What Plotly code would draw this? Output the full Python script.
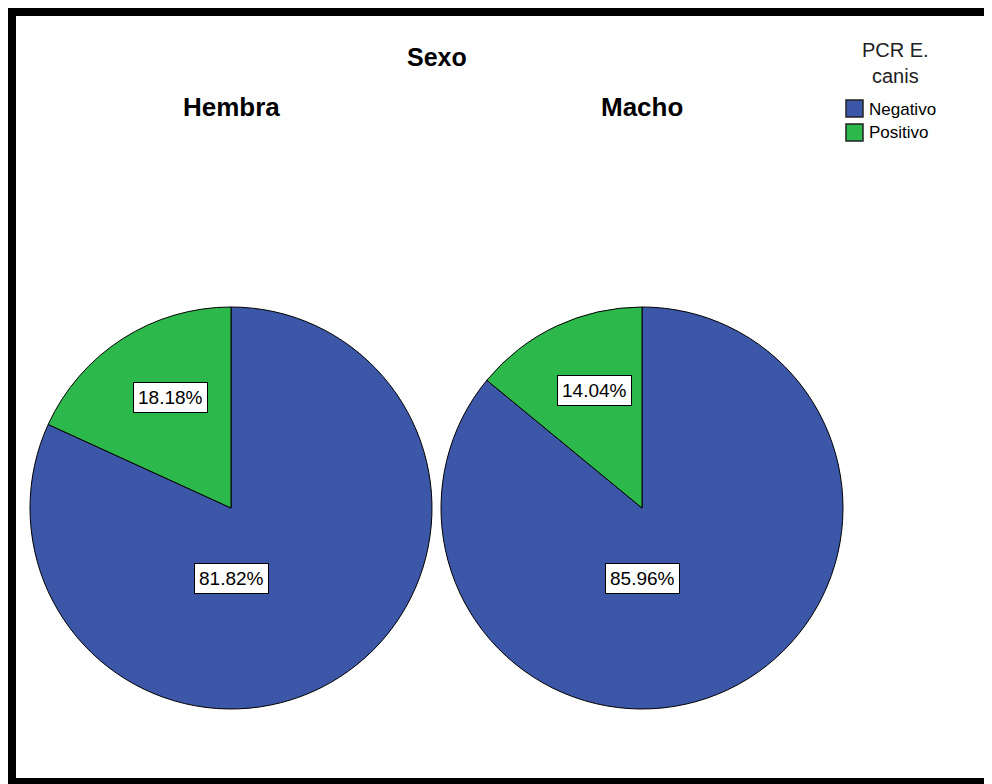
import math
import plotly.graph_objects as go

# ---- data ----
groups = ["Hembra", "Macho"]
categories = ["Negativo", "Positivo"]
hembra_pct = [81.82, 18.18]
macho_pct = [85.96, 14.04]
colors = ["#3C56A8", "#2DB84B"]
title_text = "Sexo"
legend_title = "PCR E.<br>canis"

W, H = 992, 784
OFF = 8  # page body margin offset
FONT = "Arial, Liberation Sans, sans-serif"

def px(x):
    return (x - OFF) / W

def py(y):
    return 1 - (y - OFF) / H

# pie geometry (pixels in screenshot)
centers = [(231, 508), (642, 508)]
R = 201
series = [hembra_pct, macho_pct]

fig = go.Figure()
for (cx, cy), vals in zip(centers, series):
    fig.add_trace(go.Pie(
        labels=categories, values=vals, sort=False, direction="clockwise",
        rotation=0, textinfo="none", showlegend=False,
        marker=dict(colors=colors, line=dict(color="black", width=1)),
        domain=dict(x=[px(cx - R), px(cx + R)], y=[py(cy + R), py(cy - R)]),
    ))

annotations = []
# percentage labels
for (cx, cy), vals in zip(centers, series):
    total = sum(vals)
    start = 0.0
    for i, v in enumerate(vals):
        span = v / total * 360
        mid = start + span / 2  # clockwise from top
        start += span
        if mid > 180:
            mid -= 360
        if v / total > 0.5:
            ang, frac = 180.0, 0.35
        else:
            ang, frac = mid * 0.88, 0.63
        a = math.radians(ang)
        lx = cx + frac * R * math.sin(a)
        ly = cy - frac * R * math.cos(a)
        annotations.append(dict(
            x=px(lx), y=py(ly), xref="paper", yref="paper",
            text=f"{v:.2f}%", showarrow=False,
            font=dict(family=FONT, size=19, color="black"),
            bgcolor="white", bordercolor="black", borderwidth=1, borderpad=4,
            xanchor="center", yanchor="middle",
        ))

# titles
annotations.append(dict(x=px(437), y=py(57), xref="paper", yref="paper",
                        text=f"<b>{title_text}</b>", showarrow=False,
                        font=dict(family=FONT, size=25, color="black"),
                        xanchor="center", yanchor="middle"))
for (cx, cy), g in zip(centers, groups):
    annotations.append(dict(x=px(cx), y=py(107), xref="paper", yref="paper",
                            text=f"<b>{g}</b>", showarrow=False,
                            font=dict(family=FONT, size=26, color="black"),
                            xanchor="center", yanchor="middle"))

# legend (manual)
annotations.append(dict(x=px(895), y=py(63), xref="paper", yref="paper",
                        text=legend_title, showarrow=False,
                        font=dict(family=FONT, size=20, color="#222222"),
                        xanchor="center", yanchor="middle", align="center"))
shapes = []
for i, (cat, col) in enumerate(zip(categories, colors)):
    y0 = 100 + i * 24
    shapes.append(dict(type="rect", xref="paper", yref="paper",
                       x0=px(846), x1=px(863), y0=py(y0), y1=py(y0 + 17),
                       fillcolor=col, line=dict(color="#222222", width=1.5)))
    annotations.append(dict(x=px(867), y=py(y0 + 9), xref="paper", yref="paper",
                            text=cat, showarrow=False,
                            font=dict(family=FONT, size=17, color="black"),
                            xanchor="left", yanchor="middle"))

# black frame (left, top, bottom)
frame = [(8, 8, 16, H + 10), (8, 8, W + 10, 16), (8, 778, W + 10, H + 10)]
for x0, y0, x1, y1 in frame:
    shapes.append(dict(type="rect", xref="paper", yref="paper",
                       x0=px(x0), x1=px(x1), y0=py(y1), y1=py(y0),
                       fillcolor="black", line=dict(width=0), layer="above"))

fig.update_layout(
    width=W, height=H, margin=dict(l=0, r=0, t=0, b=0),
    paper_bgcolor="white", plot_bgcolor="white",
    annotations=annotations, shapes=shapes, showlegend=False,
)

fig.write_html("out.html")
